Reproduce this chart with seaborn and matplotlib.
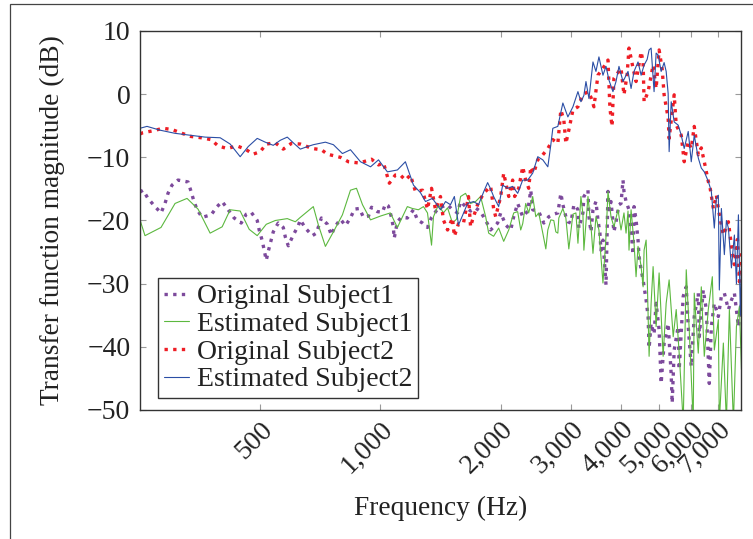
import matplotlib
matplotlib.use("Agg")
import matplotlib.pyplot as plt
import seaborn as sns
from matplotlib.patches import Rectangle
from matplotlib.ticker import FixedLocator, FuncFormatter, NullLocator

# ---------------- data ----------------
series_labels = ["Original Subject1", "Estimated Subject1",
                 "Original Subject2", "Estimated Subject2"]

orig1_freq = [250, 254.3, 261.8, 272.6, 282.2, 288.8, 293.8, 300.7, 311.3, 329.8,
              335.6, 341.4, 347.5, 357.7, 376.8, 390.0, 401.5, 415.6, 430.2, 448.1,
              461.3, 474.7, 491.5, 497.1, 505.9, 511.6, 517.8, 523.7, 539.1, 554.8,
              571.1, 577.9, 587.9, 605.1, 622.9, 630.2, 648.7, 675.4, 691.3, 711.6,
              736.6, 753.9, 767.1, 794.2, 817.5, 841.5, 860.9, 886.1, 907.0, 933.6,
              950.2, 983.6, 1012, 1029, 1047, 1065, 1077, 1083, 1103, 1128,
              1168, 1210, 1238, 1275, 1312, 1343, 1390, 1430, 1473, 1515,
              1560, 1588, 1634, 1682, 1731, 1782, 1835, 1888, 1966, 2001,
              2060, 2120, 2157, 2207, 2272, 2339, 2380, 2407, 2492, 2566,
              2641, 2718, 2782, 2831, 2864, 2914, 2948, 3000, 3052, 3088,
              3124, 3141, 3215, 3233, 3310, 3329, 3368, 3407, 3466, 3506,
              3546, 3568, 3609, 3650, 3673, 3715, 3737, 3780, 3845, 3891,
              3958, 4005, 4051, 4074, 4123, 4194, 4244, 4293, 4317, 4368,
              4418, 4444, 4497, 4549, 4575, 4629, 4682, 4709, 4764, 4846,
              4904, 4989, 5048, 5135, 5256, 5349, 5380, 5442, 5569, 5601,
              5733, 5834, 5901, 6005, 6109, 6253, 6289, 6436, 6550, 6663,
              6742, 6859, 7020, 7144, 7268, 7439, 7570, 7701, 7882, 8021]
orig1_db = [-15.5, -15.2, -16.5, -17.8, -18.8, -17.3, -15.7, -14.4, -13.6, -13.9,
            -15.4, -17.0, -18.3, -19.5, -19.1, -17.8, -17.0, -18.3, -19.6, -20.4,
            -19.0, -18.7, -20.0, -21.5, -23.2, -24.7, -26.3, -24.9, -21.8, -20.4,
            -21.1, -22.6, -24.0, -22.3, -20.8, -19.9, -21.2, -22.4, -22.0, -19.6,
            -20.6, -22.3, -21.1, -19.8, -20.8, -19.6, -18.2, -18.1, -19.5, -19.3,
            -17.9, -18.6, -18.7, -17.4, -17.7, -19.4, -21.0, -22.8, -20.2, -19.5,
            -19.6, -18.3, -19.9, -20.4, -21.1, -19.5, -18.2, -17.8, -17.5, -18.3,
            -18.8, -17.0, -17.8, -18.5, -18.0, -18.6, -20.0, -21.5, -20.4, -18.8,
            -20.7, -21.5, -19.4, -17.3, -19.4, -18.5, -15.2, -18.3, -18.6, -20.4,
            -19.4, -19.0, -18.8, -15.7, -17.5, -19.4, -20.2, -20.4, -17.5, -17.8,
            -18.3, -21.2, -18.8, -16.2, -15.2, -19.4, -21.8, -18.3, -17.0, -19.9,
            -22.0, -24.7, -23.1, -27.8, -30.2, -15.4, -18.3, -17.0, -21.8, -20.2,
            -17.5, -17.3, -13.6, -15.4, -17.0, -18.3, -21.5, -25.4, -17.8, -19.9,
            -23.1, -25.7, -27.8, -29.4, -30.5, -32.6, -35.2, -40.2, -36.3, -38.0,
            -33.1, -37.3, -45.8, -39.4, -36.3, -44.4, -48.9, -40.5, -36.8, -43.6,
            -32.0, -30.5, -36.8, -43.1, -35.2, -31.5, -38.4, -31.0, -34.1, -45.8,
            -36.8, -33.1, -35.2, -32.0, -31.5, -34.1, -32.6, -31.5, -36.8, -33.1]

est1_freq = [250, 257.3, 282.2, 306.0, 327.9, 349.4, 374.6, 401.5, 420.5, 445.5,
             469.3, 491.5, 517.8, 545.4, 584.5, 612.3, 630.2, 679.2, 699.2, 728.2,
             762.6, 803.3, 841.5, 871.2, 901.9, 944.7, 1000, 1059, 1103, 1168,
             1203, 1245, 1282, 1312, 1343, 1358, 1398, 1438, 1473, 1515,
             1551, 1588, 1634, 1682, 1731, 1782, 1835, 1867, 1921, 1978,
             2036, 2096, 2157, 2207, 2246, 2272, 2312, 2352, 2407, 2450,
             2492, 2551, 2596, 2626, 2672, 2718, 2750, 2782, 2798, 2864,
             2914, 2964, 3035, 3088, 3124, 3178, 3215, 3233, 3310, 3368,
             3407, 3466, 3526, 3609, 3673, 3715, 3780, 3845, 3936, 4005,
             4074, 4123, 4170, 4194, 4244, 4317, 4368, 4418, 4497, 4549,
             4575, 4629, 4656, 4709, 4764, 4819, 4904, 4989, 5106, 5196,
             5286, 5411, 5506, 5601, 5733, 5834, 5935, 6074, 6109, 6253,
             6363, 6473, 6625, 6781, 6859, 7020, 7060, 7226, 7354, 7481,
             7657, 7792, 7927, 8021]
est1_db = [-19.9, -22.4, -21.1, -17.3, -16.5, -18.2, -22.0, -21.0, -18.3, -18.5,
           -21.4, -22.4, -20.6, -20.0, -19.7, -20.2, -19.5, -17.8, -20.7, -24.1,
           -21.8, -19.1, -15.2, -14.9, -17.5, -19.9, -19.3, -18.8, -21.1, -17.8,
           -18.1, -18.3, -17.8, -18.8, -23.9, -19.4, -17.5, -18.8, -18.0, -20.4,
           -19.8, -16.2, -15.7, -17.3, -17.0, -16.2, -19.4, -22.0, -22.5, -21.2,
           -23.3, -21.5, -18.8, -18.6, -21.5, -20.5, -17.3, -18.8, -16.2, -19.4,
           -18.8, -22.0, -24.5, -21.5, -19.9, -20.0, -21.8, -22.0, -19.6, -18.1,
           -19.6, -24.5, -19.0, -18.8, -23.6, -16.2, -19.0, -24.7, -16.2, -20.9,
           -25.2, -19.4, -21.5, -29.9, -22.5, -15.4, -19.4, -21.0, -18.3, -21.5,
           -18.8, -22.0, -18.5, -24.7, -18.3, -23.6, -28.9, -24.1, -27.3, -30.5,
           -24.7, -23.1, -28.5, -41.5, -33.1, -27.3, -36.8, -28.3, -41.5, -33.1,
           -29.4, -38.4, -34.1, -41.0, -52.0, -27.8, -37.3, -52.0, -31.5, -41.0,
           -30.5, -41.5, -34.1, -28.9, -40.5, -35.7, -52.0, -39.4, -52.0, -34.1,
           -52.0, -36.8, -33.6, -43.6]

orig2_freq = [250, 254.3, 269.4, 285.5, 300.7, 318.6, 335.6, 355.7, 376.8, 392.3,
              413.2, 437.8, 458.6, 480.2, 500.1, 517.8, 545.4, 571.1, 598.2, 630.2,
              675.4, 711.6, 736.6, 794.2, 831.6, 886.1, 950.2, 989.2, 1018, 1053,
              1090, 1122, 1155, 1189, 1224, 1275, 1312, 1343, 1374, 1414,
              1438, 1473, 1515, 1532, 1569, 1615, 1662, 1682, 1701, 1751,
              1813, 1888, 1921, 1944, 2001, 2036, 2096, 2144, 2169, 2220,
              2272, 2312, 2352, 2380, 2421, 2478, 2551, 2626, 2703, 2782,
              2831, 2880, 2914, 2964, 3035, 3124, 3215, 3310, 3368, 3426,
              3506, 3609, 3715, 3757, 3802, 3845, 4005, 4074, 4147, 4194,
              4244, 4293, 4368, 4497, 4549, 4575, 4682, 4819, 4904, 4989,
              5077, 5135, 5256, 5286, 5442, 5506, 5668, 5766, 5901, 6005,
              6109, 6253, 6363, 6473, 6625, 6701, 6820, 6940, 7060, 7226,
              7439, 7570, 7701, 7837, 7927, 8021]
orig2_db = [-6.3, -6.1, -5.8, -5.4, -5.6, -6.2, -6.7, -6.9, -7.2, -8.2,
            -8.6, -8.2, -8.7, -9.5, -9.1, -7.9, -7.7, -8.7, -7.8, -7.9,
            -8.6, -8.8, -9.5, -10.0, -10.7, -10.9, -10.3, -11.2, -10.9, -14.1,
            -12.8, -12.8, -13.6, -12.8, -15.4, -15.2, -18.2, -14.9, -18.3, -16.2,
            -19.9, -21.5, -19.6, -22.5, -20.5, -20.4, -16.2, -21.0, -19.9, -17.5,
            -15.7, -14.6, -18.1, -19.4, -16.2, -12.5, -16.2, -13.6, -16.2, -14.9,
            -11.5, -13.6, -14.9, -11.5, -12.5, -10.4, -9.6, -8.6, -7.2, -7.8,
            -2.5, -4.1, -7.8, -5.7, -2.5, -2.0, -0.1, 0.4, -0.5, -2.0,
            3.0, 4.1, 5.4, -2.2, -5.1, 2.5, 4.1, -0.1, 3.0, 7.3,
            5.7, 4.1, 2.0, 6.7, 5.1, -1.2, 0.4, 4.6, 0.9, 7.0,
            4.0, -0.1, -3.8, -7.0, -0.1, -4.9, -6.5, -10.7, -7.5, -8.6,
            -5.1, -9.6, -8.5, -10.7, -13.8, -15.0, -18.1, -16.0, -19.1, -22.3,
            -20.2, -24.0, -27.0, -23.0, -29.7, -25.0]

est2_freq = [250, 260.3, 280.6, 306.0, 333.7, 364.0, 396.9, 420.5, 445.5, 466.6,
             491.5, 514.8, 539.1, 561.4, 584.5, 605.1, 630.2, 656.2, 679.2, 728.2,
             762.6, 803.3, 841.5, 891.6, 944.7, 989.2, 1041, 1103, 1155, 1210,
             1260, 1297, 1350, 1414, 1456, 1498, 1532, 1569, 1606, 1653,
             1711, 1761, 1813, 1856, 1888, 1921, 1978, 2024, 2084, 2144,
             2207, 2272, 2339, 2407, 2478, 2551, 2626, 2672, 2703, 2782,
             2864, 2948, 3035, 3124, 3178, 3233, 3272, 3329, 3407, 3466,
             3526, 3609, 3673, 3737, 3823, 3891, 3958, 4051, 4170, 4244,
             4317, 4418, 4497, 4575, 4656, 4709, 4764, 4846, 4904, 4960,
             5048, 5135, 5196, 5256, 5286, 5349, 5442, 5569, 5668, 5766,
             5901, 6005, 6109, 6253, 6363, 6473, 6625, 6742, 6859, 6940,
             7020, 7060, 7144, 7268, 7354, 7439, 7570, 7701, 7792, 7882,
             7971, 8021]
est2_db = [-5.4, -5.1, -5.7, -6.2, -6.5, -6.8, -6.9, -7.9, -9.9, -8.3,
           -7.0, -7.6, -8.1, -7.3, -6.8, -7.7, -8.7, -8.3, -8.0, -7.6,
           -8.0, -9.4, -8.8, -10.7, -11.5, -10.4, -12.3, -12.0, -10.7, -14.4,
           -15.6, -17.0, -16.5, -18.3, -17.0, -17.5, -16.2, -20.7, -19.2, -17.3,
           -17.0, -17.5, -15.5, -14.0, -15.0, -16.2, -17.8, -14.4, -14.9, -14.6,
           -15.7, -13.6, -13.6, -12.5, -9.9, -10.4, -11.5, -8.0, -5.4, -5.1,
           -1.4, -3.6, -2.0, 0.4, -1.2, -0.2, 2.0, -0.7, 5.1, 3.6,
           5.9, 3.0, 4.4, 2.2, 0.4, 2.0, 4.4, 2.0, 3.6, 0.9,
           3.6, 5.1, 3.0, 4.6, 5.5, 7.0, 7.3, 0.4, 6.5, 6.2,
           3.6, 5.0, 3.6, 0.1, -9.1, -1.2, -4.4, -4.9, -6.5, -8.6,
           -5.9, -10.7, -6.5, -10.1, -11.7, -12.3, -13.8, -15.4, -21.2, -16.5,
           -16.0, -31.0, -18.1, -25.4, -20.0, -21.2, -27.5, -22.3, -30.0, -19.1,
           -35.0, -27.5]

x_ticks = [500, 1000, 2000, 3000, 4000, 5000, 6000, 7000]
y_ticks = [-50, -40, -30, -20, -10, 0, 10]

# ---------------- figure ----------------
sns.set_theme(style="white")
plt.rcParams["font.family"] = ["Liberation Serif", "DejaVu Serif"]

W, H = 753, 539
fig = plt.figure(figsize=(W / 100, H / 100), dpi=100)
ax = fig.add_axes([140 / W, 1 - 410 / H, 601 / W, 379 / H])

styles = [
    (orig1_freq, orig1_db, "#7d4a9c", 2.4, (0, (1, 1.6))),
    (est1_freq, est1_db, "#5cb83f", 0.8, "-"),
    (orig2_freq, orig2_db, "#ee1d25", 2.4, (0, (1, 1.6))),
    (est2_freq, est2_db, "#2b4ea5", 0.8, "-"),
]
for (fx, fy, col, lw, ls), lab in zip(styles, series_labels):
    sns.lineplot(x=fx, y=fy, ax=ax, color=col, linewidth=lw, linestyle=ls,
                 label=lab, estimator=None, sort=False)

ax.set_xscale("log")
ax.set_xlim(250, 8000)
ax.set_ylim(-50, 10)
ax.xaxis.set_major_locator(FixedLocator(x_ticks))
ax.xaxis.set_minor_locator(NullLocator())
ax.xaxis.set_major_formatter(FuncFormatter(lambda v, p: f"{int(round(v)):,}"))
ax.yaxis.set_major_locator(FixedLocator(y_ticks))
ax.set_xlabel("")
ax.set_ylabel("")

ax.tick_params(axis="both", which="major", direction="in", length=4, width=0.8,
               color="#9a9a9a", labelsize=20, labelcolor="#222222",
               top=True, right=True, bottom=True, left=True)
ax.tick_params(axis="y", pad=7)
ax.tick_params(axis="x", pad=5)
for lbl in ax.get_xticklabels():
    lbl.set_rotation(45)
    lbl.set_ha("right")
    lbl.set_va("top")
    lbl.set_rotation_mode("anchor")

for side, sp in ax.spines.items():
    sp.set_visible(True)
    sp.set_color("#333333")
    sp.set_linewidth(1.0)

leg = ax.legend(loc="lower left", bbox_to_anchor=(0.030, 0.032), borderaxespad=0,
                fontsize=20, frameon=True, fancybox=False, framealpha=1,
                edgecolor="#333333", handlelength=0.9, handletextpad=0.3,
                labelspacing=0.08, borderpad=0.2)
leg.get_frame().set_linewidth(1.0)
for t in leg.get_texts():
    t.set_color("#222222")

fig.text(440.5 / W, 1 - 508 / H, "Frequency (Hz)", ha="center", va="center",
         fontsize=19.7, color="#222222")
fig.text(52 / W, 1 - 220.5 / H, "Transfer function magnitude (dB)", ha="center",
         va="center", rotation=90, fontsize=19.7, color="#222222")

fig.add_artist(Rectangle((9.5 / W, -0.1), 1.2, 1.1 - 4.5 / H,
                         transform=fig.transFigure, fill=False,
                         edgecolor="#444444", linewidth=0.9))

fig.savefig("out.png", dpi=100)
